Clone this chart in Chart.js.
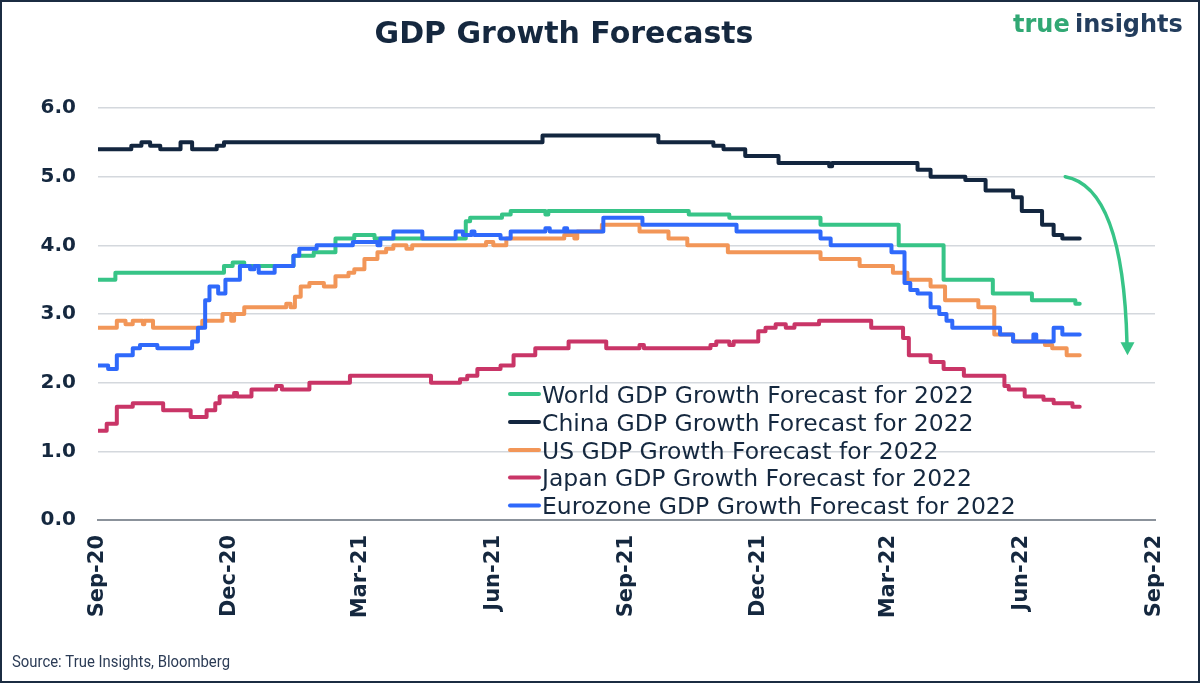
<!DOCTYPE html>
<html>
<head>
<meta charset="utf-8">
<script src="https://cdn.jsdelivr.net/npm/chart.js@4.4.1/dist/chart.umd.min.js"></script>
<style>
html,body{margin:0;padding:0;background:#fff;}
#c{display:block;}
</style>
</head>
<body>
<canvas id="c" width="1200" height="683"></canvas>
<script>
// ---------- DATA ----------
const titleText = 'GDP Growth Forecasts';
const sourceText = 'Source: True Insights, Bloomberg';
const axisStart = '2020-09-01';
const axisEnd = '2022-09-01';
const xTickDates = ['2020-09-01','2020-12-01','2021-03-01','2021-06-01','2021-09-01','2021-12-01','2022-03-01','2022-06-01','2022-09-01'];
const xTickLabels = ['Sep-20','Dec-20','Mar-21','Jun-21','Sep-21','Dec-21','Mar-22','Jun-22','Sep-22'];
const yTickValues = [0,1,2,3,4,5,6];

const seriesNames = [
  'World GDP Growth Forecast for 2022',
  'China GDP Growth Forecast for 2022',
  'US GDP Growth Forecast for 2022',
  'Japan GDP Growth Forecast for 2022',
  'Eurozone GDP Growth Forecast for 2022'
];

const worldDates = ['2020-09-01','2020-09-13','2020-11-27','2020-12-03','2020-12-11','2021-01-14','2021-01-28','2021-02-12','2021-02-25','2021-03-11','2021-05-13','2021-05-16','2021-06-07','2021-06-13','2021-07-07','2021-07-09','2021-10-14','2021-11-11','2022-01-13','2022-03-08','2022-04-08','2022-05-12','2022-06-08','2022-07-08','2022-07-11'];
const worldValues = [3.5,3.6,3.7,3.75,3.7,3.85,3.9,4.1,4.15,4.1,4.35,4.4,4.45,4.5,4.45,4.5,4.45,4.4,4.3,4.0,3.5,3.3,3.2,3.15,3.15];

const chinaDates = ['2020-09-01','2020-09-24','2020-10-01','2020-10-07','2020-10-14','2020-10-28','2020-11-05','2020-11-22','2020-11-27','2021-07-05','2021-09-23','2021-10-31','2021-11-07','2021-11-22','2021-12-15','2022-01-19','2022-01-21','2022-03-21','2022-03-30','2022-04-23','2022-05-07','2022-05-26','2022-06-01','2022-06-15','2022-06-23','2022-06-29','2022-07-11'];
const chinaValues = [5.4,5.45,5.5,5.45,5.4,5.5,5.4,5.45,5.5,5.6,5.5,5.45,5.4,5.3,5.2,5.15,5.2,5.1,5.0,4.95,4.8,4.7,4.5,4.3,4.15,4.1,4.1];

const usDates = ['2020-09-01','2020-09-14','2020-09-20','2020-09-25','2020-10-02','2020-10-03','2020-10-09','2020-11-12','2020-11-26','2020-12-02','2020-12-04','2020-12-11','2021-01-09','2021-01-12','2021-01-15','2021-01-19','2021-01-25','2021-02-04','2021-02-12','2021-02-21','2021-02-25','2021-03-04','2021-03-13','2021-03-19','2021-03-24','2021-04-02','2021-04-06','2021-05-27','2021-06-01','2021-06-10','2021-07-20','2021-07-27','2021-07-29','2021-08-15','2021-09-10','2021-09-30','2021-10-13','2021-11-10','2022-01-13','2022-02-09','2022-03-04','2022-03-14','2022-03-30','2022-04-09','2022-05-02','2022-05-13','2022-05-26','2022-06-17','2022-06-22','2022-07-02','2022-07-11'];
const usValues = [2.8,2.9,2.85,2.9,2.85,2.9,2.8,2.9,3.0,2.9,3.0,3.1,3.15,3.1,3.25,3.4,3.45,3.4,3.55,3.6,3.65,3.8,3.9,3.95,4.0,3.95,4.0,4.05,4.0,4.1,4.15,4.1,4.2,4.3,4.2,4.1,4.0,3.9,3.8,3.7,3.6,3.5,3.4,3.2,3.1,2.7,2.6,2.55,2.5,2.4,2.4];

const japanDates = ['2020-09-01','2020-09-07','2020-09-14','2020-09-25','2020-10-16','2020-11-04','2020-11-15','2020-11-21','2020-11-24','2020-12-04','2020-12-06','2020-12-16','2021-01-02','2021-01-06','2021-01-25','2021-02-22','2021-04-19','2021-05-09','2021-05-14','2021-05-21','2021-06-06','2021-06-15','2021-06-30','2021-07-23','2021-08-18','2021-09-10','2021-09-13','2021-10-29','2021-11-02','2021-11-11','2021-11-14','2021-12-01','2021-12-06','2021-12-13','2021-12-20','2021-12-26','2022-01-12','2022-02-17','2022-03-11','2022-03-15','2022-03-30','2022-04-08','2022-04-22','2022-05-20','2022-05-23','2022-06-03','2022-06-16','2022-06-23','2022-07-06','2022-07-11'];
const japanValues = [1.3,1.4,1.65,1.7,1.6,1.5,1.6,1.7,1.8,1.85,1.8,1.9,1.95,1.9,2.0,2.1,2.0,2.05,2.1,2.2,2.25,2.4,2.5,2.6,2.5,2.55,2.5,2.55,2.6,2.55,2.6,2.75,2.8,2.85,2.8,2.85,2.9,2.8,2.65,2.4,2.3,2.2,2.1,1.95,1.9,1.8,1.75,1.7,1.65,1.65];

const euroDates = ['2020-09-01','2020-09-08','2020-09-14','2020-09-25','2020-09-30','2020-10-12','2020-11-05','2020-11-09','2020-11-14','2020-11-17','2020-11-23','2020-11-28','2020-12-08','2020-12-15','2020-12-18','2020-12-21','2021-01-01','2021-01-14','2021-01-18','2021-01-30','2021-02-24','2021-03-13','2021-03-15','2021-03-24','2021-04-13','2021-05-06','2021-05-11','2021-05-17','2021-05-19','2021-06-06','2021-06-13','2021-07-07','2021-07-10','2021-07-20','2021-07-22','2021-08-16','2021-09-12','2021-11-16','2022-01-13','2022-01-20','2022-03-03','2022-03-12','2022-03-16','2022-03-21','2022-03-30','2022-04-05','2022-04-10','2022-04-14','2022-05-17','2022-05-26','2022-06-09','2022-06-11','2022-06-23','2022-06-29','2022-07-11'];
const euroValues = [2.25,2.2,2.4,2.5,2.55,2.5,2.6,2.8,3.2,3.4,3.3,3.5,3.7,3.65,3.7,3.6,3.7,3.85,3.95,4.0,4.05,4.0,4.1,4.2,4.1,4.2,4.15,4.2,4.15,4.1,4.2,4.25,4.2,4.25,4.2,4.4,4.3,4.2,4.1,4.0,3.9,3.45,3.35,3.3,3.1,3.0,2.9,2.8,2.7,2.6,2.7,2.6,2.8,2.7,2.7];

// Annotation arrow (in data terms): start, bend control, tip
const arrowDates = ['2022-07-01','2022-08-10','2022-08-13'];
const arrowValues = [5.0, 4.85, 2.4];

// ---------- STYLE ----------
const seriesColors = ['#37c487','#13263f','#f29658','#c93567','#2f69fb'];
const navy = '#15283f';
const FONT = "'DejaVu Sans', sans-serif";

function dayOf(s){
  const [y,m,d] = s.split('-').map(Number);
  const [by,bm,bd] = axisStart.split('-').map(Number);
  return (Date.UTC(y,m-1,d) - Date.UTC(by,bm-1,bd)) / 864e5;
}
const tickDays = xTickDates.map(dayOf);

function pts(dates, values){ return dates.map((d,i)=>({x:dayOf(d), y:values[i]})); }
const seriesData = [
  pts(worldDates, worldValues),
  pts(chinaDates, chinaValues),
  pts(usDates, usValues),
  pts(japanDates, japanValues),
  pts(euroDates, euroValues)
];
const drawOrder = [4,3,2,1,0]; // Eurozone on top

const decorPlugin = {
  id: 'decor',
  beforeDraw(chart){
    const ctx = chart.ctx;
    ctx.save();
    ctx.fillStyle = '#ffffff';
    ctx.fillRect(0,0,chart.width,chart.height);
    ctx.restore();
  },
  afterDatasetsDraw(chart){
    const ctx = chart.ctx, xs = chart.scales.x, ys = chart.scales.y;
    const p = arrowDates.map((d,i)=>({x: xs.getPixelForValue(dayOf(d)), y: ys.getPixelForValue(arrowValues[i])}));
    const headLen = 13, headHalf = 7;
    ctx.save();
    ctx.strokeStyle = seriesColors[0];
    ctx.fillStyle = seriesColors[0];
    ctx.lineWidth = 3.5;
    ctx.lineCap = 'round';
    ctx.beginPath();
    ctx.moveTo(p[0].x, p[0].y);
    ctx.quadraticCurveTo(p[1].x, p[1].y, p[2].x - 0.5, p[2].y - headLen + 1);
    ctx.stroke();
    ctx.beginPath();
    ctx.moveTo(p[2].x, p[2].y);
    ctx.lineTo(p[2].x - headHalf, p[2].y - headLen);
    ctx.lineTo(p[2].x + headHalf, p[2].y - headLen);
    ctx.closePath();
    ctx.fill();
    ctx.restore();
  },
  afterDraw(chart){
    const ctx = chart.ctx;
    ctx.save();
    // Title
    ctx.fillStyle = navy;
    ctx.font = "bold 30px " + FONT;
    ctx.textAlign = 'center';
    ctx.textBaseline = 'alphabetic';
    ctx.fillText(titleText, 564, 43);
    // Logo
    ctx.textAlign = 'left';
    ctx.font = "bold 24px " + FONT;
    ctx.fillStyle = '#31a874';
    ctx.fillText('true', 1013, 32);
    const w = ctx.measureText('true ').width;
    ctx.fillStyle = '#233d5d';
    ctx.fillText('insights', 1013 + w - 3, 32);
    // Legend
    ctx.font = "23.5px " + FONT;
    const rowY = [394, 422, 450, 477.5, 505.5];
    chart.data.datasets.forEach((ds, i) => {
      const y = rowY[i];
      ctx.strokeStyle = ds.borderColor;
      ctx.lineWidth = 4;
      ctx.lineCap = 'round';
      ctx.beginPath();
      ctx.moveTo(510, y);
      ctx.lineTo(539, y);
      ctx.stroke();
      ctx.fillStyle = navy;
      ctx.fillText(ds.label, 542, y + 8.5);
    });
    // Source
    ctx.font = "16px Roboto, sans-serif";
    ctx.fillStyle = '#2b3b55';
    const sw = ctx.measureText(sourceText).width;
    ctx.translate(12, 667);
    ctx.scale(218 / sw, 1);
    ctx.fillText(sourceText, 0, 0);
    ctx.restore();
    // Frame
    ctx.save();
    ctx.strokeStyle = '#1b2c42';
    ctx.lineWidth = 2;
    ctx.strokeRect(1, 1, chart.width - 2, chart.height - 2);
    ctx.restore();
  }
};

new Chart(document.getElementById('c'), {
  type: 'line',
  data: {
    datasets: seriesNames.map((name, i) => ({
      label: name,
      data: seriesData[i],
      borderColor: seriesColors[i],
      backgroundColor: seriesColors[i],
      borderWidth: 4,
      pointRadius: 0,
      pointHoverRadius: 0,
      stepped: true,
      fill: false,
      borderCapStyle: 'round',
      borderJoinStyle: 'round',
      order: drawOrder[i]
    }))
  },
  options: {
    responsive: false,
    animation: false,
    devicePixelRatio: 1,
    layout: { padding: { top: 108, right: 45, bottom: 0, left: 0 } },
    plugins: {
      legend: { display: false },
      title: { display: false },
      tooltip: { enabled: false }
    },
    scales: {
      x: {
        type: 'linear',
        min: dayOf(axisStart),
        max: dayOf(axisEnd),
        afterBuildTicks: (s) => { s.ticks = tickDays.map(v => ({ value: v })); },
        afterFit: (s) => { s.height = 163; },
        grid: { display: true, drawOnChartArea: false, drawTicks: false },
        border: { display: true, color: '#8b929b', width: 2 },
        ticks: {
          autoSkip: false,
          maxRotation: 90,
          minRotation: 90,
          padding: 15,
          color: navy,
          font: { family: FONT, weight: 'bold', size: 21 },
          callback: (v) => xTickLabels[tickDays.indexOf(v)]
        }
      },
      y: {
        min: 0,
        max: 6,
        afterBuildTicks: (s) => { s.ticks = yTickValues.map(v => ({ value: v })); },
        afterFit: (s) => { s.width = 98; },
        grid: { color: '#d4d8dd', lineWidth: 1.5, drawTicks: false },
        border: { display: false },
        ticks: {
          padding: 22,
          color: navy,
          font: { family: FONT, weight: 'bold', size: 20 },
          callback: (v) => Number(v).toFixed(1)
        }
      }
    }
  },
  plugins: [decorPlugin]
});
</script>
</body>
</html>
